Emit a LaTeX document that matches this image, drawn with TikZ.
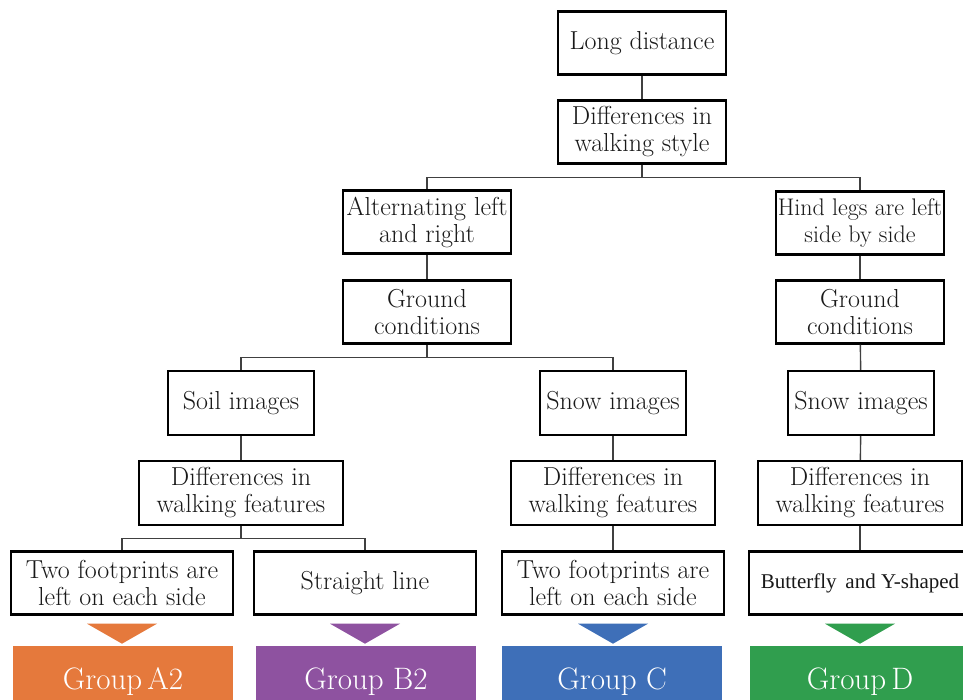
\documentclass[tikz,border=0pt]{standalone}
\usepackage{fontspec}
\newfontfamily\timesf{Liberation Serif}
\usetikzlibrary{calc}
\definecolor{gA}{RGB}{229,121,60}
\definecolor{gB}{RGB}{142,82,160}
\definecolor{gC}{RGB}{62,111,184}
\definecolor{gD}{RGB}{48,158,78}
\tikzset{
  box/.style={draw=black, line width=2.4pt, fill=white, align=center, inner sep=0pt,
    font=\fontsize{26}{27}\selectfont, text=black!90},
  wa/.style={box, minimum width=168pt, minimum height=63pt},
  wi/.style={box, minimum width=146pt, minimum height=64pt},
  wf/.style={box, minimum width=204pt, minimum height=64pt},
  wb/.style={box, minimum width=222pt, minimum height=63pt},
  conn/.style={draw=black!75, line width=1.4pt},
  grp/.style={minimum width=220pt, minimum height=72pt, inner sep=0pt, text=white,
    font=\fontsize{31}{34}\selectfont}
}
\begin{document}
\begin{tikzpicture}[x=1pt,y=-1pt]
\clip (0,0) rectangle (963,700);
\fill[white] (0,0) rectangle (963,700);
% nodes
\node[wa] (ld) at (642,43) {Long distance};
\node[wa] (dws) at (642,132) {Differences in\\walking style};
\node[wa] (alt) at (427,222) {Alternating left\\and right};
\node[wa, font=\fontsize{24}{27}\selectfont] (hind) at (860,223) {Hind legs are left\\side by side};
\node[wa] (gl) at (427,312) {Ground\\conditions};
\node[wa] (gr) at (860,312) {Ground\\conditions};
\node[wi] (soil) at (241,403) {Soil images};
\node[wi] (snowm) at (613,403) {Snow images};
\node[wi] (snowr) at (861,403) {Snow images};
\node[wf] (fl) at (241,493) {Differences in\\walking features};
\node[wf] (fm) at (613,493) {Differences in\\walking features};
\node[wf] (fr) at (860,493) {Differences in\\walking features};
\node[wb] (two1) at (122,583) {Two footprints are\\left on each side};
\node[wb] (str) at (365,583) {Straight line};
\node[wb] (two2) at (613,583) {Two footprints are\\left on each side};
\node[wb, font=\timesf\fontsize{21}{24}\selectfont] (but) at (860,583) {Butterfly\, and Y-shaped};
% groups
\node[grp, fill=gA] (ga) at (123,682) {Group\,A2};
\node[grp, fill=gB] (gb) at (366,682) {Group B2};
\node[grp, fill=gC] (gc) at (612,682) {Group C};
\node[grp, fill=gD] (gd) at (860,682) {Group\,D};
% triangles
\foreach \n/\c in {two1/gA, str/gB, two2/gC, but/gD}{
  \fill[\c] ($(\n.south)+(-35,8)$) -- ++(70,0) -- ++(-35,20) -- cycle;
}
% connectors
\draw[conn] (ld) -- (dws);
\draw[conn] (dws.south) -- ++(0,13) coordinate (j1) -| (alt.north);
\draw[conn] (j1) -| (hind.north);
\draw[conn] (alt) -- (gl);
\draw[conn] (hind) -- (gr);
\draw[conn] (gl.south) -- ++(0,13) coordinate (j2) -| (soil.north);
\draw[conn] (j2) -| (snowm.north);
\draw[conn] (gr) -- (snowr);
\draw[conn] (soil) -- (fl);
\draw[conn] (snowm) -- (fm);
\draw[conn] (snowr) -- (fr);
\draw[conn] (fl.south) -- ++(0,12) coordinate (j3) -| (two1.north);
\draw[conn] (j3) -| (str.north);
\draw[conn] (fm) -- (two2);
\draw[conn] (fr) -- (but);
\end{tikzpicture}
\end{document}
